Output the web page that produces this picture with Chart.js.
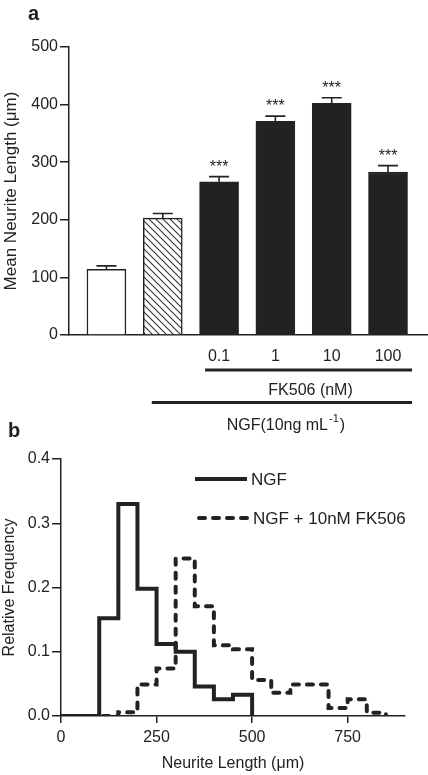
<!DOCTYPE html>
<html>
<head>
<meta charset="utf-8">
<script src="https://cdn.jsdelivr.net/npm/chart.js@4.4.0/dist/chart.umd.min.js"></script>
<style>
html,body{margin:0;padding:0;background:#fff;}
#wrap{position:relative;width:428px;height:775px;overflow:hidden;}
#c1{position:absolute;left:0;top:0;}
#c2{position:absolute;left:0;top:440px;}
</style>
</head>
<body>
<div id="wrap">
<canvas id="c1" width="428" height="440"></canvas>
<canvas id="c2" width="428" height="335"></canvas>
</div>
<script>
// ---------- Panel a data ----------
const conditions   = ['Control', 'NGF', 'NGF + FK506 0.1 nM', 'NGF + FK506 1 nM', 'NGF + FK506 10 nM', 'NGF + FK506 100 nM'];
const doseLabels   = ['', '', '0.1', '1', '10', '100'];
const meanLength   = [114, 203, 266, 371, 402, 283];
const semLength    = [6, 8, 9, 9, 10, 11];
const significance = ['', '', '***', '***', '***', '***'];
const yTicksA      = [0, 100, 200, 300, 400, 500];

// ---------- Panel b data (histogram, 50 µm bins, value = bin start) ----------
const binStart = [0, 50, 100, 150, 200, 250, 300, 350, 400, 450, 500, 550, 600, 650, 700, 750, 800, 850];
const ngfFreq  = [0, 0, 0.152, 0.330, 0.198, 0.112, 0.100, 0.046, 0.026, 0.033, 0, null, null, null, null, null, null, null];
const fkFreq   = [0, 0, 0, 0.006, 0.049, 0.074, 0.245, 0.171, 0.110, 0.104, 0.056, 0.036, 0.049, 0.049, 0.0125, 0.026, 0.005, 0];
const xTicksB  = [0, 250, 500, 750];
const yTicksB  = [0, 0.1, 0.2, 0.3, 0.4];

const FONT = "'Liberation Sans', Arial, Helvetica, sans-serif";
const INK = '#222';

function makeHatch(ctx) {
  const s = 7;
  const c = document.createElement('canvas');
  c.width = s; c.height = s;
  const x = c.getContext('2d');
  x.fillStyle = '#fff'; x.fillRect(0, 0, s, s);
  x.strokeStyle = '#333'; x.lineWidth = 1.1;
  x.beginPath();
  x.moveTo(-1, -1); x.lineTo(s + 1, s + 1);
  x.moveTo(-1, s - 1); x.lineTo(1, s + 1);
  x.moveTo(s - 1, -1); x.lineTo(s + 1, 1);
  x.stroke();
  return ctx.createPattern(c, 'repeat');
}

const ctx1 = document.getElementById('c1').getContext('2d');
const hatch = makeHatch(ctx1);
const barFill = meanLength.map((_, i) => i === 0 ? '#ffffff' : (i === 1 ? hatch : INK));

const panelAPlugin = {
  id: 'panelA',
  afterDatasetsDraw(chart) {
    const {ctx, scales: {x, y}} = chart;
    ctx.save();
    ctx.strokeStyle = INK;
    ctx.fillStyle = INK;
    ctx.lineWidth = 1.6;
    meanLength.forEach((m, i) => {
      const px = x.getPixelForValue(i + 1);
      const yb = y.getPixelForValue(m);
      const yt = y.getPixelForValue(m + semLength[i]);
      ctx.beginPath();
      ctx.moveTo(px, yb); ctx.lineTo(px, yt);
      ctx.moveTo(px - 10, yt); ctx.lineTo(px + 10, yt);
      ctx.stroke();
      if (significance[i]) {
        ctx.font = '16px ' + FONT;
        ctx.textAlign = 'center';
        ctx.textBaseline = 'alphabetic';
        ctx.fillText(significance[i], px, yt - 5);
      }
    });
    ctx.restore();
  },
  afterDraw(chart) {
    const {ctx, scales: {x}} = chart;
    ctx.save();
    ctx.fillStyle = INK;
    ctx.strokeStyle = INK;
    const fkL = x.getPixelForValue(3) - 14;
    const fkR = x.getPixelForValue(6) + 24;
    ctx.lineWidth = 3;
    ctx.beginPath();
    ctx.moveTo(fkL, 370); ctx.lineTo(fkR, 370);
    ctx.stroke();
    const nL = x.getPixelForValue(2) - 11;
    ctx.beginPath();
    ctx.moveTo(nL, 402.5); ctx.lineTo(fkR, 402.5);
    ctx.stroke();
    ctx.font = '16px ' + FONT;
    ctx.textAlign = 'center';
    ctx.textBaseline = 'alphabetic';
    ctx.fillText('FK506 (nM)', (fkL + fkR) / 2 + 2, 395);
    const t1 = 'NGF(10ng mL', sup = '-1', t2 = ')';
    ctx.font = '16px ' + FONT;
    const w1 = ctx.measureText(t1).width;
    const w3 = ctx.measureText(t2).width;
    ctx.font = '11px ' + FONT;
    const w2 = ctx.measureText(sup).width;
    const total = w1 + w2 + w3 + 2;
    const sx = (nL + fkR) / 2 + 4 - total / 2;
    ctx.textAlign = 'left';
    ctx.font = '16px ' + FONT;
    ctx.fillText(t1, sx, 430);
    ctx.font = '11px ' + FONT;
    ctx.fillText(sup, sx + w1 + 1, 422);
    ctx.font = '16px ' + FONT;
    ctx.fillText(t2, sx + w1 + w2 + 2, 430);
    ctx.font = 'bold 20px ' + FONT;
    ctx.fillText('a', 28, 20);
    ctx.fillText('b', 8, 437);
    ctx.restore();
  }
};

new Chart(ctx1, {
  type: 'bar',
  data: {
    labels: conditions,
    datasets: [{
      label: 'Mean neurite length',
      data: meanLength.map((v, i) => ({x: i + 1, y: v})),
      backgroundColor: barFill,
      borderColor: INK,
      borderWidth: 1.5,
      barThickness: 39
    }]
  },
  options: {
    responsive: false,
    animation: false,
    events: [],
    layout: {padding: {top: 47, right: 0, left: 0, bottom: 0}},
    plugins: {legend: {display: false}, tooltip: {enabled: false}},
    scales: {
      x: {
        type: 'linear',
        offset: false,
        min: 0.335,
        max: 6.71,
        afterBuildTicks: s => { s.ticks = doseLabels.map((_, i) => ({value: i + 1})); },
        afterFit: s => { s.height = 440 - 335; s.paddingLeft = 0; s.paddingRight = 0; },
        ticks: {
          callback: v => doseLabels[Math.round(v) - 1] || '',
          padding: 12,
          autoSkip: false,
          maxRotation: 0,
          color: INK,
          font: {size: 16, family: FONT}
        },
        grid: {display: false, drawTicks: false, offset: false},
        border: {display: true, color: INK, width: 1.5}
      },
      y: {
        min: 0,
        max: 500,
        afterBuildTicks: s => { s.ticks = yTicksA.map(v => ({value: v})); },
        afterFit: s => { s.width = 69; s.paddingTop = 0; s.paddingBottom = 0; },
        ticks: {padding: 2, color: INK, font: {size: 16, family: FONT}},
        grid: {drawOnChartArea: false, drawTicks: true, tickLength: 9, color: INK, lineWidth: 1.5},
        border: {display: true, color: INK, width: 1.5},
        title: {
          display: true,
          text: 'Mean Neurite Length (μm)',
          color: INK,
          font: {size: 17, family: FONT},
          padding: {top: 1, bottom: 0}
        }
      }
    }
  },
  plugins: [panelAPlugin]
});

// ---------- Panel b ----------
const legendB = {
  id: 'legendB',
  afterDraw(chart) {
    const {ctx} = chart;
    ctx.save();
    ctx.strokeStyle = INK;
    ctx.fillStyle = INK;
    ctx.lineWidth = 4;
    ctx.lineCap = 'butt';
    ctx.beginPath();
    ctx.moveTo(195, 39); ctx.lineTo(247, 39);
    ctx.stroke();
    ctx.setLineDash([6, 8]);
    ctx.lineCap = 'round';
    ctx.beginPath();
    ctx.moveTo(199, 78); ctx.lineTo(247, 78);
    ctx.stroke();
    ctx.setLineDash([]);
    ctx.font = '17px ' + FONT;
    ctx.textAlign = 'left';
    ctx.textBaseline = 'middle';
    ctx.fillText('NGF', 251, 40);
    ctx.fillText('NGF + 10nM FK506', 253, 79);
    ctx.restore();
  }
};

new Chart(document.getElementById('c2'), {
  type: 'line',
  data: {
    datasets: [
      {
        label: 'NGF + 10nM FK506',
        data: binStart.map((x, i) => ({x, y: fkFreq[i]})),
        borderColor: INK,
        borderWidth: 4,
        borderDash: [6, 8],
        borderCapStyle: 'round',
        stepped: 'before',
        pointRadius: 0,
        fill: false,
        spanGaps: false
      },
      {
        label: 'NGF',
        data: binStart.map((x, i) => ({x, y: ngfFreq[i]})),
        borderColor: INK,
        borderWidth: 4,
        borderJoinStyle: 'miter',
        stepped: 'before',
        pointRadius: 0,
        fill: false,
        spanGaps: false
      }
    ]
  },
  options: {
    responsive: false,
    animation: false,
    events: [],
    layout: {padding: {top: 19, right: 23, left: 0, bottom: 0}},
    plugins: {legend: {display: false}, tooltip: {enabled: false}},
    scales: {
      x: {
        type: 'linear',
        min: 0,
        max: 900,
        afterBuildTicks: s => { s.ticks = xTicksB.map(v => ({value: v})); },
        afterFit: s => { s.height = 59; s.paddingLeft = 0; s.paddingRight = 0; },
        ticks: {padding: 5, color: INK, font: {size: 16, family: FONT}, maxRotation: 0, autoSkip: false},
        grid: {drawOnChartArea: false, drawTicks: true, tickLength: 7, color: INK, lineWidth: 1.5},
        border: {display: true, color: INK, width: 1.5},
        title: {
          display: true,
          text: 'Neurite Length (μm)',
          color: INK,
          font: {size: 16, family: FONT},
          padding: {top: 0, bottom: 2}
        }
      },
      y: {
        min: 0,
        max: 0.4,
        afterBuildTicks: s => { s.ticks = yTicksB.map(v => ({value: v})); },
        afterFit: s => { s.width = 61; s.paddingTop = 0; s.paddingBottom = 0; },
        ticks: {callback: v => Number(v).toFixed(1), padding: 2, color: INK, font: {size: 16, family: FONT}},
        grid: {drawOnChartArea: false, drawTicks: true, tickLength: 9, color: INK, lineWidth: 1.5},
        border: {display: true, color: INK, width: 1.5},
        title: {
          display: true,
          text: 'Relative Frequency',
          color: INK,
          font: {size: 16, family: FONT},
          padding: {top: 0, bottom: 0}
        }
      }
    }
  },
  plugins: [legendB]
});
</script>
</body>
</html>
